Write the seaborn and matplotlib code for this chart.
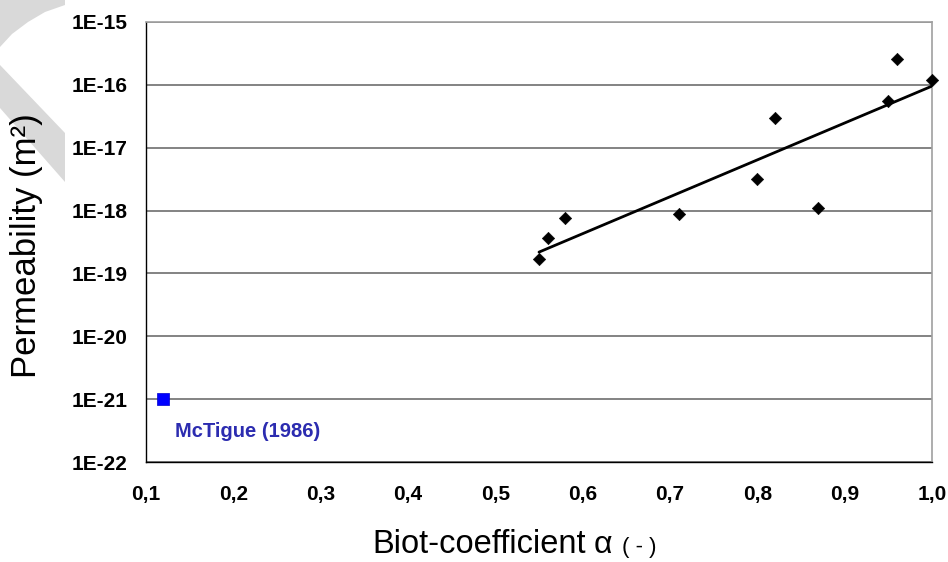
import numpy as np
import pandas as pd
import seaborn as sns
from matplotlib import pyplot as plt
from matplotlib.patches import Polygon
from matplotlib.ticker import FixedLocator, FixedFormatter, NullLocator

# measured samples (Biot coefficient vs permeability)
biot = [0.55, 0.56, 0.58, 0.71, 0.80, 0.82, 0.87, 0.95, 0.96, 1.00]
perm = [1.7e-19, 3.7e-19, 7.7e-19, 8.7e-19, 3.2e-18, 3.0e-17, 1.1e-18, 5.6e-17, 2.6e-16, 1.2e-16]

# literature value
ref_biot = [0.12]
ref_perm = [1e-21]
ref_label = "McTigue (1986)"

x_ticks = [0.1, 0.2, 0.3, 0.4, 0.5, 0.6, 0.7, 0.8, 0.9, 1.0]
x_tick_labels = ["0,1", "0,2", "0,3", "0,4", "0,5", "0,6", "0,7", "0,8", "0,9", "1,0"]
y_ticks = [1e-22, 1e-21, 1e-20, 1e-19, 1e-18, 1e-17, 1e-16, 1e-15]
y_tick_labels = ["1E-22", "1E-21", "1E-20", "1E-19", "1E-18", "1E-17", "1E-16", "1E-15"]

sns.set_style("white")
plt.rcParams["font.family"] = ["Liberation Sans", "DejaVu Sans"]
plt.rcParams["text.color"] = "black"
plt.rcParams["xtick.color"] = "black"
plt.rcParams["ytick.color"] = "black"

W, H = 948, 562
fig = plt.figure(figsize=(W / 100, H / 100), dpi=100)
ax = fig.add_axes([146 / W, 1 - 462 / H, 786 / W, 440 / H])
ax.patch.set_alpha(0)

# grey page-corner watermark
shade = "#d9d9d9"
corner = [(0, 0), (65, 0), (65, 5), (45, 12), (28, 22), (12, 34), (0, 47)]
band = [(0, 65), (65, 133), (65, 182), (0, 108)]
for pts in (corner, band):
    fig.patches.append(Polygon([(x / W, 1 - y / H) for x, y in pts], closed=True,
                               transform=fig.transFigure, facecolor=shade,
                               edgecolor="none", zorder=0))

df = pd.DataFrame({"biot": biot, "perm": perm})
ref = pd.DataFrame({"biot": ref_biot, "perm": ref_perm})

# exponential trendline (linear fit in log space)
slope, icpt = np.polyfit(df["biot"], np.log10(df["perm"]), 1)
xs = np.linspace(df["biot"].min(), df["biot"].max(), 60)
trend = pd.DataFrame({"biot": xs, "perm": 10 ** (icpt + slope * xs)})

ax.set_yscale("log")
sns.lineplot(data=trend, x="biot", y="perm", color="black", linewidth=2.0, ax=ax, zorder=3)
sns.scatterplot(data=df, x="biot", y="perm", marker="D", s=40, color="black",
                edgecolor="black", linewidth=0.4, ax=ax, zorder=4, clip_on=False)
sns.scatterplot(data=ref, x="biot", y="perm", marker="s", s=85, color="#0000ff",
                edgecolor="#0000cc", linewidth=0.5, ax=ax, zorder=4, clip_on=False)
ax.annotate(ref_label, (ref_biot[0], ref_perm[0]), xytext=(8.5, -23), textcoords="offset points",
            ha="left", va="center", fontsize=14.5, fontweight="bold", color="#2c2cb0")

ax.set_xlim(0.1, 1.0)
ax.set_ylim(1e-22, 1e-15)
ax.xaxis.set_major_locator(FixedLocator(x_ticks))
ax.xaxis.set_major_formatter(FixedFormatter(x_tick_labels))
ax.yaxis.set_major_locator(FixedLocator(y_ticks))
ax.yaxis.set_major_formatter(FixedFormatter(y_tick_labels))
ax.yaxis.set_minor_locator(NullLocator())
ax.tick_params(axis="both", which="major", direction="out", length=4.5, width=1,
               color="black", labelcolor="black", labelsize=15)
ax.tick_params(axis="x", pad=12)
ax.tick_params(axis="y", pad=8.5)
for lab in ax.get_xticklabels() + ax.get_yticklabels():
    lab.set_fontweight("bold")

ax.yaxis.grid(True, color="#6e6e6e", linewidth=1.2)
ax.xaxis.grid(False)
for side in ("left", "bottom"):
    ax.spines[side].set_color("black")
    ax.spines[side].set_linewidth(1.0)
for side in ("top", "right"):
    ax.spines[side].set_color("#a0a0a0")
    ax.spines[side].set_linewidth(1.2)

ax.set_xlabel("")
ax.set_ylabel("")
fig.text(27 / W, 1 - 246 / H, "Permeability (m²)", rotation=90, ha="center", va="center",
         fontsize=25)
fig.text(372 / W, 1 - 553 / H, "Biot-coefficient", ha="left", va="baseline", fontsize=23.5)
fig.text(594 / W, 1 - 553 / H, "α", ha="left", va="baseline", fontsize=23)
fig.text(622 / W, 1 - 553 / H, "( - )", ha="left", va="baseline", fontsize=16)

fig.savefig("out.png", dpi=100)
